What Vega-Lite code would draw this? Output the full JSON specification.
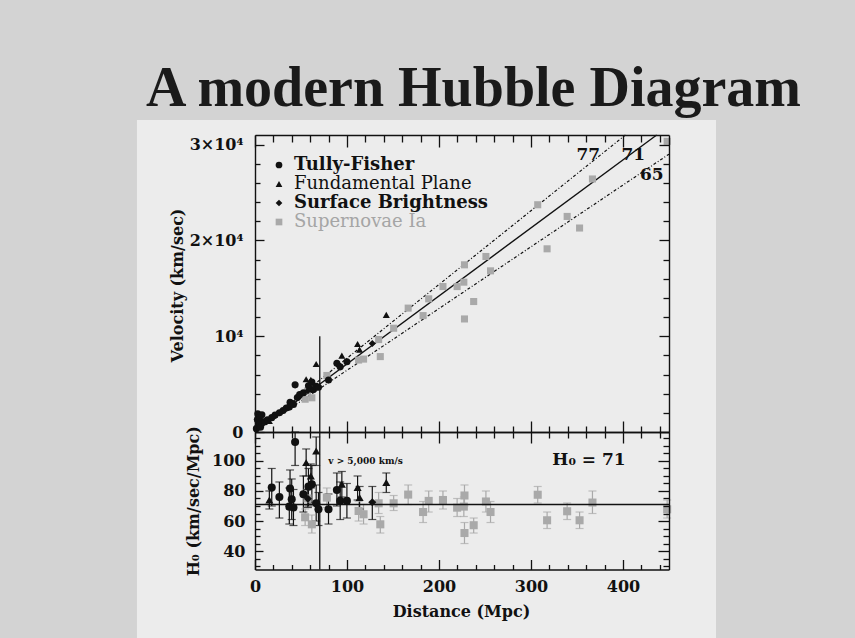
{
  "$schema": "https://vega.github.io/schema/vega-lite/v6.json",
  "width": 855,
  "height": 638,
  "autosize": "none",
  "padding": 0,
  "background": "#d3d3d3",
  "title": {"text": "A modern Hubble Diagram", "font": "Liberation Serif", "fontSize": 56, "fontWeight": "bold", "color": "#1a1a1a", "anchor": "middle", "frame": "group", "dx": 46, "dy": 162, "offset": 0, "baseline": "alphabetic"},
  "config": {
    "view": {"stroke": null},
    "axis": {"domainColor": "#111", "domainWidth": 1.4, "tickColor": "#111", "tickWidth": 1.3, "labelFont": "DejaVu Serif", "labelFontSize": 16, "labelFontWeight": "bold", "labelColor": "#111", "titleFont": "DejaVu Serif", "titleFontSize": 16, "titleFontWeight": "bold", "titleColor": "#111", "grid": false, "labelOverlap": false, "labelFlush": false},
    "legend": {"orient": "none", "legendX": 270, "legendY": 156, "padding": 0, "labelFont": "DejaVu Serif", "labelFontSize": 18, "labelLimit": 0, "symbolSize": 45, "rowPadding": 1, "labelOffset": 6, "symbolStrokeWidth": 0}
  },
  "datasets": {
    "pts": [
      {"m":"Supernovae Ia","d":54.5,"v":3420,"H":62.5,"lo":57,"hi":68},
      {"m":"Supernovae Ia","d":57,"v":4280,"H":75,"lo":69,"hi":81},
      {"m":"Supernovae Ia","d":61.8,"v":3570,"H":57.8,"lo":52,"hi":64},
      {"m":"Supernovae Ia","d":78.1,"v":5900,"H":75.6,"lo":69,"hi":82},
      {"m":"Supernovae Ia","d":112.6,"v":7510,"H":66.7,"lo":60,"hi":73},
      {"m":"Supernovae Ia","d":118,"v":7610,"H":64.5,"lo":58,"hi":71},
      {"m":"Supernovae Ia","d":134.4,"v":9650,"H":71.8,"lo":65,"hi":79},
      {"m":"Supernovae Ia","d":136.2,"v":7870,"H":57.8,"lo":52,"hi":63},
      {"m":"Supernovae Ia","d":150.7,"v":10830,"H":71.8,"lo":67,"hi":77},
      {"m":"Supernovae Ia","d":166.5,"v":12930,"H":77.6,"lo":71,"hi":84},
      {"m":"Supernovae Ia","d":182.7,"v":12150,"H":66,"lo":59,"hi":73},
      {"m":"Supernovae Ia","d":188.8,"v":13900,"H":73.4,"lo":66,"hi":80},
      {"m":"Supernovae Ia","d":204.3,"v":15180,"H":74,"lo":68,"hi":80},
      {"m":"Supernovae Ia","d":219.7,"v":15180,"H":68.9,"lo":63,"hi":75},
      {"m":"Supernovae Ia","d":227,"v":15640,"H":69.6,"lo":63,"hi":76},
      {"m":"Supernovae Ia","d":227.7,"v":17450,"H":77,"lo":70,"hi":84},
      {"m":"Supernovae Ia","d":227.7,"v":11800,"H":52,"lo":45,"hi":59},
      {"m":"Supernovae Ia","d":237.7,"v":13620,"H":57.2,"lo":52,"hi":62},
      {"m":"Supernovae Ia","d":251,"v":18320,"H":73,"lo":66,"hi":80},
      {"m":"Supernovae Ia","d":256,"v":16820,"H":66,"lo":59,"hi":73},
      {"m":"Supernovae Ia","d":307.3,"v":23720,"H":77.5,"lo":72,"hi":83},
      {"m":"Supernovae Ia","d":317.5,"v":19120,"H":60.5,"lo":55,"hi":66},
      {"m":"Supernovae Ia","d":339.3,"v":22500,"H":66.5,"lo":61,"hi":72},
      {"m":"Supernovae Ia","d":352.8,"v":21290,"H":60.5,"lo":55,"hi":66},
      {"m":"Supernovae Ia","d":366.8,"v":26410,"H":72.3,"lo":65,"hi":80},
      {"m":"Supernovae Ia","d":448,"v":30340,"H":67.8,"lo":62,"hi":74},
      {"m":"Tully-Fisher","d":1.5,"v":350},
      {"m":"Tully-Fisher","d":2.5,"v":1300},
      {"m":"Tully-Fisher","d":3,"v":1900},
      {"m":"Tully-Fisher","d":4,"v":800},
      {"m":"Tully-Fisher","d":5,"v":1600},
      {"m":"Tully-Fisher","d":6,"v":500},
      {"m":"Tully-Fisher","d":7,"v":1100},
      {"m":"Tully-Fisher","d":7.5,"v":1800},
      {"m":"Tully-Fisher","d":10.9,"v":1080},
      {"m":"Tully-Fisher","d":13.5,"v":1280},
      {"m":"Tully-Fisher","d":21.8,"v":1780},
      {"m":"Tully-Fisher","d":30.5,"v":2250},
      {"m":"Tully-Fisher","d":34,"v":2500},
      {"m":"Tully-Fisher","d":46,"v":3600},
      {"m":"Tully-Fisher","d":48.5,"v":3900},
      {"m":"Tully-Fisher","d":63,"v":4400},
      {"m":"Tully-Fisher","d":18.2,"v":1500,"H":82.3,"lo":70,"hi":95},
      {"m":"Tully-Fisher","d":26.5,"v":2010,"H":76,"lo":62,"hi":86},
      {"m":"Tully-Fisher","d":38.1,"v":3110,"H":81.6,"lo":68,"hi":94},
      {"m":"Tully-Fisher","d":39.9,"v":2970,"H":74.5,"lo":61,"hi":88},
      {"m":"Tully-Fisher","d":37.3,"v":2600,"H":69.6,"lo":58,"hi":82},
      {"m":"Tully-Fisher","d":41.8,"v":2880,"H":69,"lo":57,"hi":81},
      {"m":"Tully-Fisher","d":43.6,"v":4920,"H":112.7,"lo":97,"hi":119.3},
      {"m":"Tully-Fisher","d":52.6,"v":4090,"H":77.8,"lo":66,"hi":90},
      {"m":"Tully-Fisher","d":58.1,"v":4820,"H":82.9,"lo":70,"hi":95},
      {"m":"Tully-Fisher","d":61.8,"v":5220,"H":84.5,"lo":72,"hi":97},
      {"m":"Tully-Fisher","d":66.5,"v":4770,"H":71.8,"lo":60,"hi":84},
      {"m":"Tully-Fisher","d":69,"v":4680,"H":67.8,"lo":57,"hi":79},
      {"m":"Tully-Fisher","d":79.9,"v":5420,"H":67.8,"lo":58,"hi":78},
      {"m":"Tully-Fisher","d":89,"v":7180,"H":80.7,"lo":70,"hi":92},
      {"m":"Tully-Fisher","d":92.6,"v":6800,"H":73.4,"lo":61,"hi":86},
      {"m":"Tully-Fisher","d":99.9,"v":7330,"H":73.4,"lo":62,"hi":85},
      {"m":"Fundamental Plane","d":15.6,"v":1150,"H":74,"lo":68,"hi":80},
      {"m":"Fundamental Plane","d":55.6,"v":5500,"H":98.9,"lo":90,"hi":108},
      {"m":"Fundamental Plane","d":60.7,"v":5460,"H":90,"lo":82,"hi":98},
      {"m":"Fundamental Plane","d":66.5,"v":7100,"H":106.7,"lo":97,"hi":116},
      {"m":"Fundamental Plane","d":94.4,"v":7970,"H":84.5,"lo":76,"hi":93},
      {"m":"Fundamental Plane","d":111.5,"v":9180,"H":82.3,"lo":74,"hi":90},
      {"m":"Fundamental Plane","d":113.7,"v":8600,"H":75.6,"lo":68,"hi":83},
      {"m":"Fundamental Plane","d":142.7,"v":12220,"H":85.6,"lo":79,"hi":92},
      {"m":"Surface Brightness","d":127.5,"v":9240,"H":72.5,"lo":61,"hi":83},
      {"m":"Surface Brightness","d":57.5,"v":4300,"H":74.8,"lo":69,"hi":81}
    ],
    "lines": [
      {"k":"71","d":0,"v":0},{"k":"71","d":436.6,"v":31000},
      {"k":"77","d":0,"v":0},{"k":"77","d":402.6,"v":31000},
      {"k":"65","d":0,"v":0},{"k":"65","d":450,"v":29000}
    ]
  },
  "resolve": {"scale": {"y": "independent"}, "axis": {"x": "independent", "y": "independent"}},
  "layer": [
    {
      "data": {"values": [{}]},
      "mark": {"type": "rect", "color": "#ececec"},
      "encoding": {
        "x": {"datum": -128.3, "type": "quantitative", "scale": {"domain": [0, 450], "range": [255, 669], "nice": false, "zero": false}, "axis": null},
        "x2": {"datum": 501.1},
        "y": {"datum": 32557, "type": "quantitative", "scale": {"domain": [0, 31000], "range": [432, 135], "nice": false, "zero": false}, "axis": null},
        "y2": {"datum": -21496}
      }
    },
    {
      "data": {"name": "lines"},
      "transform": [{"filter": "datum.k === '71'"}],
      "mark": {"type": "line", "color": "#111", "strokeWidth": 1.4},
      "encoding": {
        "x": {"field": "d", "type": "quantitative", "scale": {"domain": [0, 450], "range": [255, 669], "nice": false, "zero": false},
              "axis": {"zindex": 2, "orient": "bottom", "offset": -206, "values": [0,20,40,60,80,100,120,140,160,180,200,220,240,260,280,300,320,340,360,380,400,420,440], "tickSize": {"condition": {"test": "datum.value % 100 === 0", "value": -11}, "value": -6}, "labels": false, "title": null}},
        "y": {"field": "v", "type": "quantitative", "scale": {"domain": [0, 31000], "range": [432, 135], "nice": false, "zero": false},
              "axis": {"zindex": 2, "orient": "left", "offset": -255, "values": [0,2000,4000,6000,8000,10000,12000,14000,16000,18000,20000,22000,24000,26000,28000,30000], "tickSize": {"condition": {"test": "datum.value % 10000 === 0", "value": -9}, "value": -5}, "labelExpr": "datum.value === 0 ? '0' : datum.value === 10000 ? '10⁴' : datum.value === 20000 ? '2×10⁴' : datum.value === 30000 ? '3×10⁴' : ''", "labelPadding": 21, "title": "Velocity (km/sec)", "titleX": -78, "titleY": 285, "titleAngle": -90, "titleAlign": "center", "titleBaseline": "middle"}},
        "detail": {"field": "k"}
      }
    },
    {
      "data": {"name": "lines"},
      "transform": [{"filter": "datum.k !== '71'"}],
      "mark": {"type": "line", "color": "#111", "strokeWidth": 1.2, "strokeDash": [3, 2, 1, 2]},
      "encoding": {
        "x": {"field": "d", "type": "quantitative", "scale": {"domain": [0, 450], "range": [255, 669], "nice": false, "zero": false},
              "axis": {"zindex": 2, "orient": "top", "offset": -135, "values": [0,20,40,60,80,100,120,140,160,180,200,220,240,260,280,300,320,340,360,380,400,420,440], "tickSize": {"condition": {"test": "datum.value % 100 === 0", "value": -12}, "value": -7}, "labels": false, "title": null}},
        "y": {"field": "v", "type": "quantitative", "scale": {"domain": [0, 31000], "range": [432, 135], "nice": false, "zero": false},
              "axis": {"zindex": 2, "orient": "right", "offset": -186, "values": [0,2000,4000,6000,8000,10000,12000,14000,16000,18000,20000,22000,24000,26000,28000,30000], "tickSize": {"condition": {"test": "datum.value % 10000 === 0", "value": -10}, "value": -6}, "labels": false, "title": null}},
        "detail": {"field": "k"}
      }
    },
    {
      "data": {"values": [{}]},
      "mark": {"type": "rule", "color": "#111", "strokeWidth": 1.3},
      "encoding": {
        "x": {"datum": 70.4, "type": "quantitative", "scale": {"domain": [0, 450], "range": [255, 669], "nice": false, "zero": false}, "axis": null},
        "y": {"datum": 0, "type": "quantitative", "scale": {"domain": [0, 31000], "range": [432, 135], "nice": false, "zero": false}, "axis": null},
        "y2": {"datum": 10000}
      }
    },
    {
      "data": {"name": "pts"},
      "mark": {"type": "point", "filled": true, "size": 50, "opacity": 1},
      "encoding": {
        "x": {"field": "d", "type": "quantitative", "scale": {"domain": [0, 450], "range": [255, 669], "nice": false, "zero": false}, "axis": null},
        "y": {"field": "v", "type": "quantitative", "scale": {"domain": [0, 31000], "range": [432, 135], "nice": false, "zero": false}, "axis": null},
        "color": {"field": "m", "type": "nominal", "scale": {"domain": ["Tully-Fisher", "Fundamental Plane", "Surface Brightness", "Supernovae Ia"], "range": ["#111111", "#111111", "#111111", "#a9a9a9"]},
                  "legend": {"title": null, "labelColor": {"expr": "datum.value === 'Supernovae Ia' ? '#a5a5a5' : '#111111'"}, "labelFontWeight": {"expr": "datum.value === 'Surface Brightness' || datum.value === 'Tully-Fisher' ? 'bold' : 'normal'"}}},
        "shape": {"field": "m", "type": "nominal", "scale": {"domain": ["Tully-Fisher", "Fundamental Plane", "Surface Brightness", "Supernovae Ia"], "range": ["circle", "triangle-up", "diamond", "square"]},
                  "legend": {"title": null}}
      }
    },
    {
      "data": {"values": [{}]},
      "mark": {"type": "text", "text": "77", "font": "DejaVu Serif", "fontSize": 17, "fontWeight": "bold", "color": "#111", "align": "center", "baseline": "middle"},
      "encoding": {
        "x": {"datum": 362.3, "type": "quantitative", "scale": {"domain": [0, 450], "range": [255, 669], "nice": false, "zero": false}, "axis": null},
        "y": {"datum": 28900, "type": "quantitative", "scale": {"domain": [0, 31000], "range": [432, 135], "nice": false, "zero": false}, "axis": null}
      }
    },
    {
      "data": {"values": [{}]},
      "mark": {"type": "text", "text": "71", "font": "DejaVu Serif", "fontSize": 17, "fontWeight": "bold", "color": "#111", "align": "center", "baseline": "middle"},
      "encoding": {
        "x": {"datum": 411.2, "type": "quantitative", "scale": {"domain": [0, 450], "range": [255, 669], "nice": false, "zero": false}, "axis": null},
        "y": {"datum": 28900, "type": "quantitative", "scale": {"domain": [0, 31000], "range": [432, 135], "nice": false, "zero": false}, "axis": null}
      }
    },
    {
      "data": {"values": [{}]},
      "mark": {"type": "text", "text": "65", "font": "DejaVu Serif", "fontSize": 17, "fontWeight": "bold", "color": "#111", "align": "center", "baseline": "middle"},
      "encoding": {
        "x": {"datum": 431.2, "type": "quantitative", "scale": {"domain": [0, 450], "range": [255, 669], "nice": false, "zero": false}, "axis": null},
        "y": {"datum": 26800, "type": "quantitative", "scale": {"domain": [0, 31000], "range": [432, 135], "nice": false, "zero": false}, "axis": null}
      }
    },
    {
      "data": {"name": "pts"},
      "transform": [{"filter": "isValid(datum.H)"}],
      "mark": {"type": "rule", "strokeWidth": 1.2},
      "encoding": {
        "x": {"field": "d", "type": "quantitative", "scale": {"domain": [0, 450], "range": [255, 669], "nice": false, "zero": false},
              "axis": {"zindex": 2, "orient": "bottom", "offset": -68.5, "values": [0,20,40,60,80,100,120,140,160,180,200,220,240,260,280,300,320,340,360,380,400,420,440], "tickSize": {"condition": {"test": "datum.value % 100 === 0", "value": -10}, "value": -5}, "labelExpr": "datum.value % 100 === 0 ? datum.label : ''", "labelPadding": 19, "title": "Distance (Mpc)", "titleX": 461, "titleY": 42, "titleBaseline": "middle", "titleAlign": "center"}},
        "y": {"field": "lo", "type": "quantitative", "scale": {"domain": [27.7, 119.3], "range": [569.5, 432], "nice": false, "zero": false},
              "axis": {"zindex": 2, "orient": "left", "offset": -255, "values": [30,35,40,45,50,55,60,65,70,75,80,85,90,95,100,105,110,115], "tickSize": {"condition": {"test": "datum.value % 20 === 0", "value": -8}, "value": -5}, "labelExpr": "datum.value % 20 === 0 ? datum.label : ''", "labelPadding": 18, "title": "H₀ (km/sec/Mpc)", "titleX": -62, "titleY": 500.7, "titleAngle": -90, "titleAlign": "center", "titleBaseline": "middle"}},
        "y2": {"field": "hi"},
        "color": {"field": "m", "type": "nominal", "scale": {"domain": ["Tully-Fisher", "Fundamental Plane", "Surface Brightness", "Supernovae Ia"], "range": ["#111111", "#111111", "#111111", "#b0b0b0"]}, "legend": null}
      }
    },
    {
      "data": {"name": "pts"},
      "transform": [{"filter": "isValid(datum.H)"}],
      "mark": {"type": "tick", "orient": "horizontal", "size": 8, "thickness": 1.2},
      "encoding": {
        "x": {"field": "d", "type": "quantitative", "scale": {"domain": [0, 450], "range": [255, 669], "nice": false, "zero": false},
              "axis": {"zindex": 2, "orient": "top", "offset": -432, "values": [0,20,40,60,80,100,120,140,160,180,200,220,240,260,280,300,320,340,360,380,400,420,440], "tickSize": {"condition": {"test": "datum.value % 100 === 0", "value": -11}, "value": -6}, "labels": false, "title": null}},
        "y": {"field": "lo", "type": "quantitative", "scale": {"domain": [27.7, 119.3], "range": [569.5, 432], "nice": false, "zero": false},
              "axis": {"zindex": 2, "orient": "right", "offset": -186, "values": [30,35,40,45,50,55,60,65,70,75,80,85,90,95,100,105,110,115], "tickSize": {"condition": {"test": "datum.value % 20 === 0", "value": -11}, "value": -6}, "labels": false, "title": null}},
        "color": {"field": "m", "type": "nominal", "scale": {"domain": ["Tully-Fisher", "Fundamental Plane", "Surface Brightness", "Supernovae Ia"], "range": ["#111111", "#111111", "#111111", "#b0b0b0"]}, "legend": null}
      }
    },
    {
      "data": {"name": "pts"},
      "transform": [{"filter": "isValid(datum.H)"}],
      "mark": {"type": "tick", "orient": "horizontal", "size": 8, "thickness": 1.2},
      "encoding": {
        "x": {"field": "d", "type": "quantitative", "scale": {"domain": [0, 450], "range": [255, 669], "nice": false, "zero": false}, "axis": null},
        "y": {"field": "hi", "type": "quantitative", "scale": {"domain": [27.7, 119.3], "range": [569.5, 432], "nice": false, "zero": false}, "axis": null},
        "color": {"field": "m", "type": "nominal", "scale": {"domain": ["Tully-Fisher", "Fundamental Plane", "Surface Brightness", "Supernovae Ia"], "range": ["#111111", "#111111", "#111111", "#b0b0b0"]}, "legend": null}
      }
    },
    {
      "data": {"name": "pts"},
      "transform": [{"filter": "isValid(datum.H)"}],
      "mark": {"type": "point", "filled": true, "size": 65, "opacity": 1},
      "encoding": {
        "x": {"field": "d", "type": "quantitative", "scale": {"domain": [0, 450], "range": [255, 669], "nice": false, "zero": false}, "axis": null},
        "y": {"field": "H", "type": "quantitative", "scale": {"domain": [27.7, 119.3], "range": [569.5, 432], "nice": false, "zero": false}, "axis": null},
        "color": {"field": "m", "type": "nominal", "scale": {"domain": ["Tully-Fisher", "Fundamental Plane", "Surface Brightness", "Supernovae Ia"], "range": ["#111111", "#111111", "#111111", "#a9a9a9"]}, "legend": null},
        "shape": {"field": "m", "type": "nominal", "scale": {"domain": ["Tully-Fisher", "Fundamental Plane", "Surface Brightness", "Supernovae Ia"], "range": ["circle", "triangle-up", "diamond", "square"]}, "legend": null}
      }
    },
    {
      "data": {"values": [{}]},
      "mark": {"type": "rule", "color": "#111", "strokeWidth": 1.4},
      "encoding": {
        "x": {"datum": 0, "type": "quantitative", "scale": {"domain": [0, 450], "range": [255, 669], "nice": false, "zero": false}, "axis": null},
        "x2": {"datum": 450},
        "y": {"datum": 71, "type": "quantitative", "scale": {"domain": [27.7, 119.3], "range": [569.5, 432], "nice": false, "zero": false}, "axis": null}
      }
    },
    {
      "data": {"values": [{}]},
      "mark": {"type": "rule", "color": "#111", "strokeWidth": 1.3},
      "encoding": {
        "x": {"datum": 70.4, "type": "quantitative", "scale": {"domain": [0, 450], "range": [255, 669], "nice": false, "zero": false}, "axis": null},
        "y": {"datum": 27.7, "type": "quantitative", "scale": {"domain": [27.7, 119.3], "range": [569.5, 432], "nice": false, "zero": false}, "axis": null},
        "y2": {"datum": 119.3}
      }
    },
    {
      "data": {"values": [{}]},
      "mark": {"type": "text", "text": "H₀ = 71", "font": "DejaVu Serif", "fontSize": 17, "fontWeight": "bold", "color": "#111", "align": "center", "baseline": "middle"},
      "encoding": {
        "x": {"datum": 363, "type": "quantitative", "scale": {"domain": [0, 450], "range": [255, 669], "nice": false, "zero": false}, "axis": null},
        "y": {"datum": 100.7, "type": "quantitative", "scale": {"domain": [27.7, 119.3], "range": [569.5, 432], "nice": false, "zero": false}, "axis": null}
      }
    },
    {
      "data": {"values": [{}]},
      "mark": {"type": "text", "text": "v > 5,000 km/s", "font": "DejaVu Serif", "fontSize": 9, "fontWeight": "bold", "color": "#111", "align": "left", "baseline": "middle"},
      "encoding": {
        "x": {"datum": 79.7, "type": "quantitative", "scale": {"domain": [0, 450], "range": [255, 669], "nice": false, "zero": false}, "axis": null},
        "y": {"datum": 100.2, "type": "quantitative", "scale": {"domain": [27.7, 119.3], "range": [569.5, 432], "nice": false, "zero": false}, "axis": null}
      }
    }
  ]
}
